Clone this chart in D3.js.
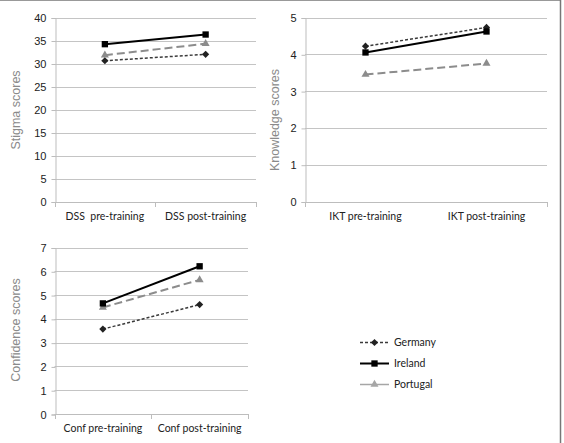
<!DOCTYPE html>
<html><head><meta charset="utf-8">
<script src="https://cdn.jsdelivr.net/npm/d3@7"></script>
<style>body{margin:0;background:#fff}svg{display:block}</style>
</head><body>
<svg id="c" width="564" height="443"></svg>
<script>
// ---- data ----
const seriesNames = ["Germany", "Ireland", "Portugal"];

const dssCategories = ["DSS  pre-training", "DSS post-training"];
const dssGermany = [30.6, 32.0];
const dssIreland = [34.2, 36.3];
const dssPortugal = [31.8, 34.3];
const dssTicks = [0, 5, 10, 15, 20, 25, 30, 35, 40];

const iktCategories = ["IKT pre-training", "IKT post-training"];
const iktGermany = [4.22, 4.73];
const iktIreland = [4.05, 4.62];
const iktPortugal = [3.45, 3.75];
const iktTicks = [0, 1, 2, 3, 4, 5];

const confCategories = ["Conf pre-training", "Conf post-training"];
const confGermany = [3.57, 4.60];
const confIreland = [4.65, 6.21];
const confPortugal = [4.48, 5.64];
const confTicks = [0, 1, 2, 3, 4, 5, 6, 7];

// ---- styles ----
const ARIAL = "'Liberation Sans', Arial, sans-serif";
const CALIBRI = "Lato, 'Open Sans', sans-serif";
const styles = {
  Germany: {color: "#3a3a3a", dash: "3,2", width: 1.5, marker: "diamond", mcolor: "#222"},
  Ireland: {color: "#000", dash: null, width: 2, marker: "square", mcolor: "#000"},
  Portugal: {color: "#8c8c8c", dash: "8,4", width: 2, marker: "triangle", mcolor: "#8c8c8c"}
};

const svg = d3.select("#c");
// outer border (top & right)
svg.append("line").attr("x1", 0).attr("x2", 561).attr("y1", 0.5).attr("y2", 0.5).attr("stroke", "#999");
svg.append("line").attr("x1", 560.5).attr("x2", 560.5).attr("y1", 0).attr("y2", 443).attr("stroke", "#777").attr("stroke-width", 1.5);

function markerPath(type) {
  if (type === "diamond") return "M0,-3.6L3.6,0L0,3.6L-3.6,0Z";
  if (type === "square") return d3.symbol(d3.symbolSquare, 40)();
  return d3.symbol(d3.symbolTriangle, 28)();
}

function panel(cfg) {
  const g = svg.append("g");
  const x = d3.scaleBand().domain(cfg.categories).range([cfg.left, cfg.right]);
  const y = d3.scaleLinear().domain([0, d3.max(cfg.ticks)]).range([cfg.bottom, cfg.top]);

  // gridlines
  g.selectAll(".grid").data(cfg.ticks.filter(t => t > 0)).join("line")
    .attr("x1", cfg.left).attr("x2", cfg.right)
    .attr("y1", d => Math.round(y(d)) + 0.5).attr("y2", d => Math.round(y(d)) + 0.5)
    .attr("stroke", "#c4c4c4").attr("stroke-width", 1);

  // y axis
  const ya = d3.axisLeft(y).tickValues(cfg.ticks).tickFormat(d3.format("d")).tickSize(4).tickPadding(5);
  const yg = g.append("g").attr("transform", `translate(${Math.round(cfg.left) + 0.5},0.5)`).call(ya)
    .attr("font-family", ARIAL).attr("font-size", 11);
  yg.select(".domain").attr("stroke", "#bdbdbd");
  yg.selectAll(".tick line").attr("stroke", "#bdbdbd");
  yg.selectAll(".tick text").attr("fill", "#222");

  // x axis
  const xa = d3.axisBottom(x).tickSize(0).tickPadding(10);
  const xg = g.append("g").attr("transform", `translate(0,${Math.round(cfg.bottom) + 0.5})`).call(xa)
    .attr("font-family", CALIBRI).attr("font-size", 10.5);
  xg.select(".domain").remove();
  xg.selectAll(".tick text").attr("fill", "#222").style("white-space", "pre");
  g.append("line").attr("x1", cfg.left).attr("x2", cfg.right)
    .attr("y1", Math.round(cfg.bottom) + 0.5).attr("y2", Math.round(cfg.bottom) + 0.5).attr("stroke", "#bdbdbd");
  const bounds = [cfg.left, cfg.right].concat(cfg.midTick ? [(cfg.left + cfg.right) / 2] : []);
  g.selectAll(".xt").data(bounds).join("line")
    .attr("x1", d => Math.round(d) + 0.5).attr("x2", d => Math.round(d) + 0.5)
    .attr("y1", Math.round(cfg.bottom)).attr("y2", Math.round(cfg.bottom) + 5).attr("stroke", "#bdbdbd");

  // y title
  g.append("text").attr("transform", `translate(${cfg.titleX},${cfg.titleY}) rotate(-90)`)
    .attr("text-anchor", "middle").attr("font-family", ARIAL)
    .attr("font-size", 12.5).attr("fill", "#8a8a8a").text(cfg.title);

  // series
  const cx = c => x(c) + x.bandwidth() / 2;
  ["Portugal", "Germany", "Ireland"].forEach(name => {
    const vals = cfg.data[name];
    const st = styles[name];
    const pts = cfg.categories.map((c, i) => [cx(c), y(vals[i])]);
    g.append("path").attr("d", d3.line()(pts)).attr("fill", "none")
      .attr("stroke", st.color).attr("stroke-width", st.width)
      .attr("stroke-dasharray", st.dash);
    g.selectAll(null).data(pts).join("path")
      .attr("d", markerPath(st.marker))
      .attr("transform", d => `translate(${d[0]},${d[1]})`)
      .attr("fill", st.mcolor);
  });
}

panel({categories: dssCategories, ticks: dssTicks, left: 54.5, right: 256, top: 17.5, bottom: 201.5,
  title: "Stigma scores", titleX: 20, titleY: 110, midTick: true,
  data: {Germany: dssGermany, Ireland: dssIreland, Portugal: dssPortugal}});
panel({categories: iktCategories, ticks: iktTicks, left: 305, right: 547, top: 17.5, bottom: 201.5,
  title: "Knowledge scores", titleX: 279, titleY: 120, midTick: false,
  data: {Germany: iktGermany, Ireland: iktIreland, Portugal: iktPortugal}});
panel({categories: confCategories, ticks: confTicks, left: 54.5, right: 248, top: 247.5, bottom: 414,
  title: "Confidence scores", titleX: 20, titleY: 330, midTick: true,
  data: {Germany: confGermany, Ireland: confIreland, Portugal: confPortugal}});

// legend
const leg = svg.append("g");
const legY = d3.scalePoint().domain(seriesNames).range([342.5, 384.5]);
seriesNames.forEach(name => {
  const st = styles[name];
  const yy = legY(name);
  leg.append("line").attr("x1", 360).attr("x2", 389).attr("y1", yy).attr("y2", yy)
    .attr("stroke", name === "Portugal" ? "#a6a6a6" : st.color)
    .attr("stroke-width", name === "Portugal" ? 1.5 : st.width)
    .attr("stroke-dasharray", name === "Germany" ? "3,2" : null);
  leg.append("path").attr("d", markerPath(st.marker)).attr("transform", `translate(374.5,${yy})`)
    .attr("fill", name === "Portugal" ? "#a6a6a6" : st.mcolor);
  leg.append("text").attr("x", 394).attr("y", yy).attr("dy", "0.35em")
    .attr("font-family", CALIBRI).attr("font-size", 10.5).attr("fill", "#222").text(name);
});
</script>
</body></html>
